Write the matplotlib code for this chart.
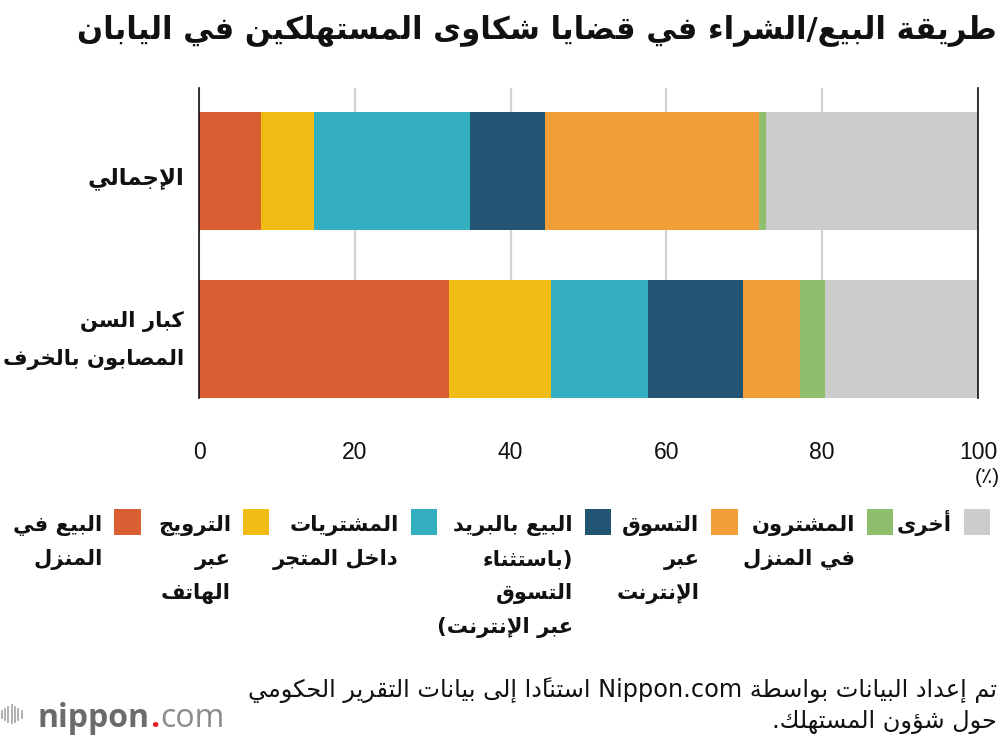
import re
import matplotlib
matplotlib.use("Agg")
import matplotlib.pyplot as plt
from matplotlib.patches import Rectangle
from matplotlib.lines import Line2D
import numpy as np

# ---------------- data ----------------
categories = ['الإجمالي', 'كبار السن\nالمصابون بالخرف']
series_labels = ['البيع في\nالمنزل', 'الترويج\nعبر\nالهاتف', 'المشتريات\nداخل المتجر',
                 'البيع بالبريد\n(باستثناء\nالتسوق\nعبر الإنترنت)', 'التسوق\nعبر\nالإنترنت',
                 'المشترون\nفي المنزل', 'أخرى']
values_total = [8.0, 6.7, 20.1, 9.6, 27.5, 0.9, 27.2]
values_dementia = [32.1, 13.1, 12.5, 12.1, 7.3, 3.2, 19.7]
colors = ['#D95F32', '#F1BC14', '#33AFBF', '#225573', '#F19E38', '#8FBF6C', '#CCCCCC']
xticks = [0, 20, 40, 60, 80, 100]
unit_label = '(٪)'
title = 'طريقة البيع/الشراء في قضايا شكاوى المستهلكين في اليابان'
source_lines = ['تم إعداد البيانات بواسطة Nippon.com استنادًا إلى بيانات التقرير الحكومي',
                'حول شؤون المستهلك.']

# ---------------- minimal Arabic shaping + bidi ----------------
_AR = {}
for _c, _s, _n in [
    ('\u0621', 0xFE80, 1), ('\u0622', 0xFE81, 2), ('\u0623', 0xFE83, 2), ('\u0624', 0xFE85, 2),
    ('\u0625', 0xFE87, 2), ('\u0626', 0xFE89, 4), ('\u0627', 0xFE8D, 2), ('\u0628', 0xFE8F, 4),
    ('\u0629', 0xFE93, 2), ('\u062A', 0xFE95, 4), ('\u062B', 0xFE99, 4), ('\u062C', 0xFE9D, 4),
    ('\u062D', 0xFEA1, 4), ('\u062E', 0xFEA5, 4), ('\u062F', 0xFEA9, 2), ('\u0630', 0xFEAB, 2),
    ('\u0631', 0xFEAD, 2), ('\u0632', 0xFEAF, 2), ('\u0633', 0xFEB1, 4), ('\u0634', 0xFEB5, 4),
    ('\u0635', 0xFEB9, 4), ('\u0636', 0xFEBD, 4), ('\u0637', 0xFEC1, 4), ('\u0638', 0xFEC5, 4),
    ('\u0639', 0xFEC9, 4), ('\u063A', 0xFECD, 4), ('\u0641', 0xFED1, 4), ('\u0642', 0xFED5, 4),
    ('\u0643', 0xFED9, 4), ('\u0644', 0xFEDD, 4), ('\u0645', 0xFEE1, 4), ('\u0646', 0xFEE5, 4),
    ('\u0647', 0xFEE9, 4), ('\u0648', 0xFEED, 2), ('\u0649', 0xFEEF, 2), ('\u064A', 0xFEF1, 4)]:
    _AR[_c] = (_s, _n)
_LA = {'\u0622': 0xFEF5, '\u0623': 0xFEF7, '\u0625': 0xFEF9, '\u0627': 0xFEFB}
_MARKS = set(chr(c) for c in range(0x064B, 0x0653)) | {'\u0670'}
_MIRROR = {'(': ')', ')': '(', '[': ']', ']': '['}


def _shape_rtl(run):
    units = []
    i = 0
    while i < len(run):
        c = run[i]
        if c in _MARKS and units:
            units[-1][2] += c
            i += 1
            continue
        if c == '\u0644':
            j = i + 1
            marks = ''
            while j < len(run) and run[j] in _MARKS:
                marks += run[j]
                j += 1
            if j < len(run) and run[j] in _LA:
                units.append(['la', run[j], marks])
                i = j + 1
                continue
        units.append(['ch', c, ''])
        i += 1

    def nforms(u):
        if u[0] == 'la':
            return 2
        return _AR.get(u[1], (0, 0))[1]

    out = []
    for k, u in enumerate(units):
        n = nforms(u)
        prev = units[k - 1] if k > 0 else None
        nxt = units[k + 1] if k + 1 < len(units) else None
        pc = n >= 2 and prev is not None and nforms(prev) == 4
        nc = n == 4 and nxt is not None and nforms(nxt) >= 2
        if u[0] == 'la':
            g = chr(_LA[u[1]] + (1 if pc else 0))
        elif n == 0:
            g = _MIRROR.get(u[1], u[1])
        else:
            start = _AR[u[1]][0]
            if n == 4:
                idx = 3 if (pc and nc) else (1 if pc else (2 if nc else 0))
            elif n == 2:
                idx = 1 if pc else 0
            else:
                idx = 0
            g = chr(start + idx)
        out.append(g + u[2])
    return ''.join(reversed(out))


_LTR = re.compile(r'[A-Za-z0-9][A-Za-z0-9.\-]*[A-Za-z0-9]|[A-Za-z0-9]')


def ar(text):
    res = []
    for line in text.split('\n'):
        parts = []
        pos = 0
        for m in _LTR.finditer(line):
            if m.start() > pos:
                parts.append(_shape_rtl(line[pos:m.start()]))
            parts.append(m.group())
            pos = m.end()
        if pos < len(line):
            parts.append(_shape_rtl(line[pos:]))
        res.append(''.join(reversed(parts)))
    return '\n'.join(res)


# ---------------- figure ----------------
W, H = 1000, 740
fig = plt.figure(figsize=(W / 100, H / 100), dpi=100)
fig.patch.set_facecolor('white')
fig.canvas.draw()
R = fig.canvas.get_renderer()


def fx(px):
    return px / W


def fy(py):
    return 1 - py / H


def fit_width(texts, target):
    """Shrink a group of text objects so that the widest one is `target` px wide."""
    wmax = max(t.get_window_extent(R).width for t in texts)
    if wmax > target:
        for t in texts:
            t.set_fontsize(t.get_fontsize() * target / wmax)


AR_FONT = ['DejaVu Sans']
NUM_FONT = ['Liberation Sans', 'DejaVu Sans']

ax = fig.add_axes([fx(199), fy(398), fx(978) - fx(199), fy(88) - fy(398)])
data = np.array([values_total, values_dementia])
ypos = np.arange(len(categories))
left = np.zeros(len(categories))
for j in range(data.shape[1]):
    ax.barh(ypos, data[:, j], left=left, height=0.7, color=colors[j], edgecolor='none', zorder=2)
    left += data[:, j]

ax.set_xlim(0, 100)
ax.set_ylim(1.35, -0.492)
ax.set_axisbelow(True)
ax.set_xticks(xticks)
ax.set_xticklabels([str(t) for t in xticks], fontfamily=NUM_FONT, fontsize=16.5, color='#111111')
ax.tick_params(axis='x', length=0, pad=31)
ax.set_yticks([])
ax.xaxis.grid(True, color='#d2d2d2', lw=1.6, zorder=0)
for s in ['top', 'bottom']:
    ax.spines[s].set_visible(False)
for s in ['left', 'right']:
    ax.spines[s].set_color('#111111')
    ax.spines[s].set_linewidth(1.2)
    ax.spines[s].set_zorder(5)

# unit label
fig.text(fx(987), fy(478), unit_label, ha='center', va='center', fontsize=15,
         family=NUM_FONT, color='#111111')

# category labels (right aligned at the left of axis)
cat_baselines = [[184], [327, 364.5]]
for cat, bls in zip(categories, cat_baselines):
    grp = []
    for line, bl in zip(cat.split('\n'), bls):
        grp.append(fig.text(fx(184), fy(bl), ar(line), ha='right', va='baseline', fontsize=16.5,
                            fontweight='bold', family=AR_FONT, color='#111111'))
    fit_width(grp, 180)

# title
tt = fig.text(fx(997), fy(38), ar(title), ha='right', va='baseline', fontsize=25,
              fontweight='bold', family=AR_FONT, color='#111111')
fit_width([tt], 917)

# legend
swatch_right = [140.7, 269.3, 437, 611.3, 737.7, 893, 990.3]
sw = 26.5
sw_top = 508.5
for lab, col, xr in zip(series_labels, colors, swatch_right):
    fig.add_artist(Rectangle((fx(xr - sw), fy(sw_top + sw)), sw / W, sw / H,
                             transform=fig.transFigure, facecolor=col, edgecolor='none'))
    for k, line in enumerate(lab.split('\n')):
        fig.text(fx(xr - sw - 11.7), fy(531 + 34 * k), ar(line), ha='right', va='baseline',
                 fontsize=15.2, fontweight='bold', family=AR_FONT, color='#111111')

# source note
src = []
for k, line in enumerate(source_lines):
    src.append(fig.text(fx(997), fy(697 + 31 * k), ar(line), ha='right', va='baseline',
                        fontsize=17.5, family=AR_FONT, color='#111111'))
fit_width(src, 747)

# logo
bar_x = [1.7, 5, 8.3, 11.7, 15, 18.3, 21.7]
bar_h = [7, 11, 15, 18, 15, 11, 7]
for bx, bh in zip(bar_x, bar_h):
    fig.add_artist(Line2D([fx(bx), fx(bx)], [fy(714 - bh / 2), fy(714 + bh / 2)],
                          transform=fig.transFigure, color='#aaaaaa', lw=1.3))
t1 = fig.text(fx(37), fy(727), 'nippon', ha='left', va='baseline', fontsize=23,
              fontweight='bold', family=['Open Sans', 'DejaVu Sans'], color='#6b6b6b')
bb = t1.get_window_extent(R)
t2 = fig.text(bb.x1 / W + fx(1), fy(727), '.', ha='left', va='baseline', fontsize=23,
              fontweight='bold', family=['Open Sans', 'DejaVu Sans'], color='#e8202a')
bb2 = t2.get_window_extent(R)
fig.text(bb2.x1 / W + fx(1), fy(727), 'com', ha='left', va='baseline', fontsize=23,
         family=['Open Sans', 'DejaVu Sans'], color='#8c8c8c')

fig.savefig('out.png', dpi=100, facecolor='white')
